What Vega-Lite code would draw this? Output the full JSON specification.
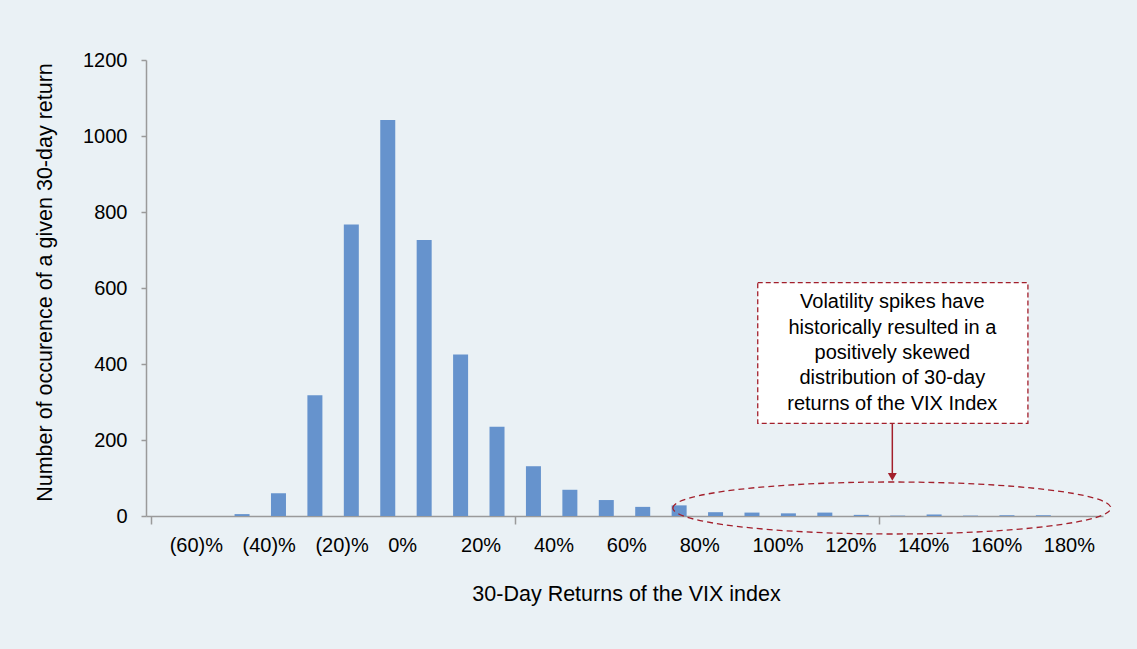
{
  "$schema": "https://vega.github.io/schema/vega-lite/v6.json",
  "autosize": {"type": "none"},
  "width": 957,
  "height": 456,
  "padding": {"left": 146, "top": 60, "right": 34, "bottom": 133},
  "background": "#eaf1f5",
  "config": {
    "view": {"stroke": null},
    "font": "Liberation Sans",
    "axis": {"labelFont": "Liberation Sans", "titleFont": "Liberation Sans", "labelColor": "#000000", "titleColor": "#000000", "labelFontSize": 20, "titleFontSize": 21.5, "titleFontWeight": "normal", "grid": false, "domainColor": "#9a9a9a", "tickColor": "#9a9a9a", "domainWidth": 1.5, "tickWidth": 1.5}
  },
  "datasets": {
    "bins": [
      {"i": 0, "n": 0}, {"i": 1, "n": 0}, {"i": 2, "n": 5}, {"i": 3, "n": 60},
      {"i": 4, "n": 318}, {"i": 5, "n": 767}, {"i": 6, "n": 1042}, {"i": 7, "n": 726},
      {"i": 8, "n": 425}, {"i": 9, "n": 235}, {"i": 10, "n": 131}, {"i": 11, "n": 69},
      {"i": 12, "n": 42}, {"i": 13, "n": 24}, {"i": 14, "n": 28}, {"i": 15, "n": 10},
      {"i": 16, "n": 9}, {"i": 17, "n": 7}, {"i": 18, "n": 9}, {"i": 19, "n": 3},
      {"i": 20, "n": 1}, {"i": 21, "n": 4}, {"i": 22, "n": 1}, {"i": 23, "n": 2},
      {"i": 24, "n": 2}, {"i": 25, "n": 0}
    ]
  },
  "encoding": {
    "x": {
      "field": "i", "type": "quantitative",
      "scale": {"domain": [-0.5, 25.5], "nice": false, "zero": false},
      "axis": {
        "title": "30-Day Returns of the VIX index",
        "values": [-0.5, 9.5, 19.5, 0, 2, 4, 6, 8, 10, 12, 14, 16, 18, 20, 22, 24],
        "labelExpr": "datum.value % 2 != 0 ? '' : (datum.value < 6 ? '(' + (6 - datum.value) * 10 + ')%' : (datum.value - 6) * 10 + '%')",
        "labelAlign": "left",
        "labelBaseline": "alphabetic",
        "labelOffset": 0,
        "labelPadding": 27,
        "labelOverlap": false,
        "labelFlush": false,
        "labelBound": false,
        "tickSize": 8,
        "tickOpacity": {"condition": {"test": "datum.value % 2 != 0", "value": 1}, "value": 0},
        "titleBaseline": "alphabetic",
        "titleY": 84,
        "titleX": 480
      }
    },
    "y": {
      "field": "n", "type": "quantitative",
      "scale": {"domain": [0, 1200], "nice": false},
      "axis": {
        "title": "Number of occurence of a given 30-day return",
        "values": [0, 200, 400, 600, 800, 1000, 1200],
        "format": "d",
        "tickSize": 5,
        "labelPadding": 14,
        "titleAngle": -90,
        "titleX": -101,
        "titleY": 222,
        "titleAlign": "center",
        "titleBaseline": "middle"
      }
    }
  },
  "layer": [
    {
      "data": {"name": "bins"},
      "mark": {"type": "bar", "size": 15, "color": "#6693cd"}
    },
    {
      "data": {"values": [{"i": 16.158, "i2": 23.576, "n": 613.9, "n2": 243.9}]},
      "mark": {"type": "rect", "fill": "#ffffff", "stroke": "#a31f2b", "strokeWidth": 1.3, "strokeDash": [5, 3]},
      "encoding": {
        "x2": {"field": "i2"},
        "y2": {"field": "n2"}
      }
    },
    {
      "data": {"values": [{"i": 19.853, "n": 546.6, "note": "Volatility spikes have\nhistorically resulted in a\npositively skewed\ndistribution of 30-day\nreturns of the VIX Index"}]},
      "mark": {"type": "text", "font": "Liberation Sans", "fontSize": 20, "color": "#000000", "align": "center", "baseline": "alphabetic", "lineBreak": "\n", "lineHeight": 25.4},
      "encoding": {
        "text": {"field": "note"}
      }
    },
    {
      "data": {"values": [{"i": 19.853, "n": 243.9, "n2": 103}]},
      "mark": {"type": "rule", "color": "#a31f2b", "strokeWidth": 1.5},
      "encoding": {
        "y2": {"field": "n2"}
      }
    },
    {
      "data": {"values": [{"i": 19.853, "n": 103.2}]},
      "mark": {"type": "point", "shape": "triangle-down", "size": 80, "filled": true, "color": "#a31f2b", "opacity": 1}
    },
    {
      "data": {"values": [{"i": 19.84, "n": 21.05}]},
      "mark": {"type": "point", "shape": "M-1,0A1,0.1187 0 1,1 1,0A1,0.1187 0 1,1 -1,0Z", "size": 191844, "filled": false, "stroke": "#a31f2b", "strokeWidth": 1.3, "strokeDash": [6, 4], "opacity": 1}
    }
  ]
}
